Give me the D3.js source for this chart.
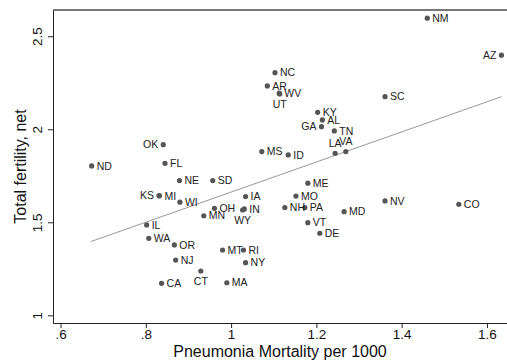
<!DOCTYPE html>
<html>
<head>
<meta charset="utf-8">
<script src="https://cdn.jsdelivr.net/npm/d3@7"></script>
<style>
  html, body { margin: 0; padding: 0; background: #fff; }
  svg { display: block; font-family: "Liberation Sans", Arial, sans-serif; }
</style>
</head>
<body>
<svg id="chart" width="507" height="362"></svg>
<script>
// data
const states = ["ND","OK","FL","NE","SD","KS","MI","WI","IA","OH","IN","WY","MN","IL","WA","OR",
                "MT","RI","NJ","NY","CT","CA","MA","NM","AZ","NC","AR","WV","UT","SC","KY","AL",
                "GA","TN","LA","VA","MS","ID","ME","MO","NH","PA","MD","NV","CO","VT","DE"];
const mortality = [0.673,0.841,0.845,0.879,0.957,0.831,0.832,0.880,1.034,0.961,1.031,1.027,0.936,0.802,0.807,0.867,
                   0.980,1.029,0.870,1.034,0.929,0.837,0.990,1.460,1.634,1.103,1.085,1.113,1.114,1.361,1.203,1.214,
                   1.212,1.242,1.244,1.269,1.072,1.134,1.180,1.152,1.126,1.173,1.265,1.361,1.534,1.180,1.208];
const fertility = [1.803,1.917,1.817,1.724,1.724,1.643,1.642,1.608,1.638,1.575,1.572,1.566,1.535,1.486,1.414,1.378,
                   1.351,1.351,1.297,1.283,1.238,1.172,1.175,2.597,2.398,2.304,2.233,2.194,2.190,2.175,2.091,2.050,
                   2.014,1.991,1.871,1.880,1.880,1.862,1.710,1.641,1.579,1.579,1.557,1.615,1.597,1.498,1.441];
// fitted line end points
const fitX = [0.671, 1.634];
const fitY = [1.396, 2.175];
const xTicks = [0.6, 0.8, 1.0, 1.2, 1.4, 1.6];
const yTicks = [1, 1.5, 2, 2.5];
const xTitle = "Pneumonia Mortality per 1000";
const yTitle = "Total fertility, net";

(function () {
    // label clock positions (default 3 = right)
    const labelPos = { OK: 9, KS: 9, AZ: 9, GA: 9, UT: 6, WY: 6, CT: 6, LA: 12, VA: 12 };

    const svg = d3.select("#chart");
    const m = { left: 53, right: 507, top: 10, bottom: 323 };

    const x = d3.scaleLinear().domain([0.5824, 1.647]).range([m.left, m.right]);
    const y = d3.scaleLinear().domain([0.9586, 2.641]).range([m.bottom, m.top]);

    const fmt = d => String(+d.toFixed(1)).replace(/^0\./, ".");

    // top frame line
    svg.append("line")
        .attr("x1", m.left).attr("x2", m.right).attr("y1", m.top).attr("y2", m.top)
        .attr("stroke", "#777").attr("stroke-width", 2);

    // fit line
    svg.append("line")
        .attr("x1", x(fitX[0])).attr("y1", y(fitY[0]))
        .attr("x2", x(fitX[1])).attr("y2", y(fitY[1]))
        .attr("stroke", "#999").attr("stroke-width", 1);

    // axes
    const gx = svg.append("g")
        .attr("transform", `translate(0,${m.bottom})`)
        .call(d3.axisBottom(x).tickValues(xTicks).tickFormat(fmt).tickSize(5).tickSizeOuter(0));
    gx.selectAll("text").attr("dy", null).attr("y", 16)
        .style("font-size", "13.5px").attr("fill", "#111");

    const gy = svg.append("g")
        .attr("transform", `translate(${m.left},0)`)
        .call(d3.axisLeft(y).tickValues(yTicks).tickFormat(fmt).tickSize(5).tickSizeOuter(0));
    gy.selectAll("text")
        .attr("x", null).attr("dy", null)
        .attr("text-anchor", "middle")
        .attr("transform", "translate(-11,0) rotate(-90)")
        .style("font-size", "13.5px").attr("fill", "#111");

    svg.selectAll(".domain, .tick line").attr("stroke", "#222");

    // axis titles
    svg.append("text")
        .attr("x", (m.left + m.right) / 2).attr("y", 357)
        .attr("text-anchor", "middle")
        .style("font-size", "16px").attr("fill", "#111")
        .text(xTitle);

    svg.append("text")
        .attr("transform", `translate(26,${(m.top + m.bottom) / 2}) rotate(-90)`)
        .attr("text-anchor", "middle")
        .style("font-size", "16px").attr("fill", "#111")
        .text(yTitle);

    // points and labels
    const pts = states.map((s, i) => ({ s, mo: mortality[i], f: fertility[i] }));

    svg.append("g").selectAll("circle").data(pts).join("circle")
        .attr("cx", d => x(d.mo)).attr("cy", d => y(d.f))
        .attr("r", 2.6).attr("fill", "#555");

    const pos = d => labelPos[d.s] || 3;

    svg.append("g").selectAll("text").data(pts).join("text")
        .attr("x", d => pos(d) === 3 ? x(d.mo) + 5 : pos(d) === 9 ? x(d.mo) - 5 : x(d.mo))
        .attr("y", d => pos(d) === 6 ? y(d.f) + 10 : pos(d) === 12 ? y(d.f) - 10 : y(d.f))
        .attr("dy", "0.35em")
        .attr("text-anchor", d => pos(d) === 3 ? "start" : pos(d) === 9 ? "end" : "middle")
        .style("font-size", "10.5px").attr("fill", "#222")
        .text(d => d.s);
})();
</script>
</body>
</html>
